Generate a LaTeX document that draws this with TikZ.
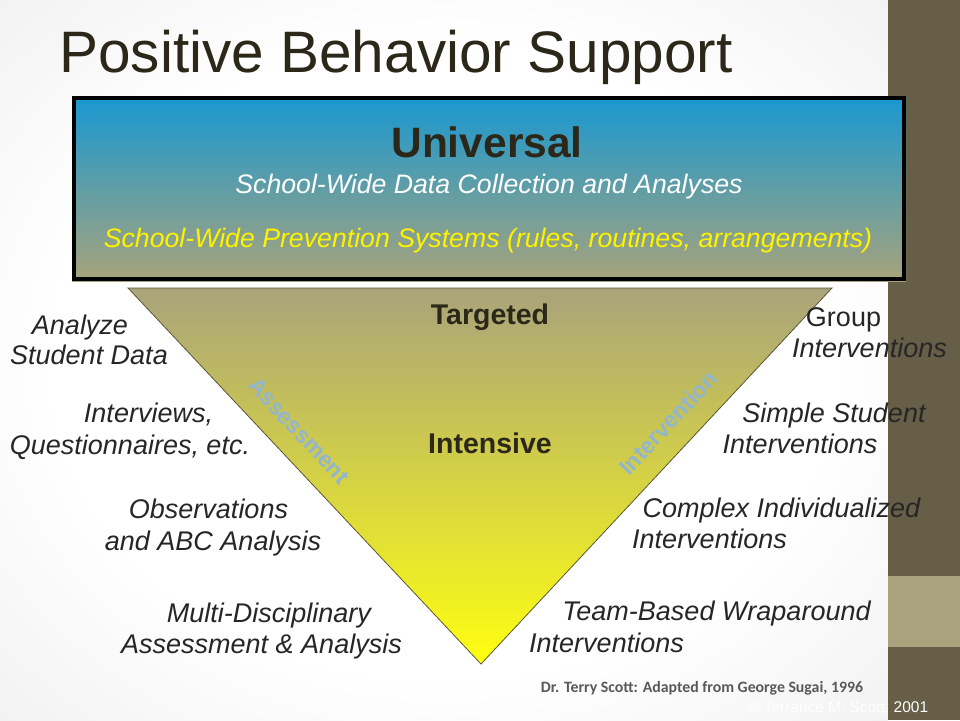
\documentclass[tikz,border=0pt]{standalone}
\usepackage{fontspec}
\setmainfont{Liberation Sans}
\newfontfamily\carlito{Carlito}
\usetikzlibrary{shadings}
\definecolor{titlecol}{HTML}{2B2819}
\definecolor{txtcol}{HTML}{262626}
\definecolor{stripdark}{HTML}{675E47}
\definecolor{striplight}{HTML}{A9A47E}
\definecolor{boxtop}{HTML}{1898D2}
\definecolor{boxbot}{HTML}{A8A37B}
\definecolor{tritop}{HTML}{A9A37B}
\definecolor{tribot}{HTML}{FFFF10}
\definecolor{triedge}{HTML}{5A5638}
\definecolor{sidelab}{HTML}{92B6CE}
\definecolor{creditcol}{HTML}{595959}
\definecolor{bggray}{HTML}{E4E4E4}
\definecolor{bggray2}{HTML}{CBCBCB}
\pgfdeclareradialshading{bgshade}{\pgfpoint{0bp}{0bp}}{color(0bp)=(white); color(22bp)=(white); color(50bp)=(bggray); color(71bp)=(bggray2)}
\tikzset{
  lab/.style={inner sep=0pt, anchor=base, text=txtcol, font=\fontsize{27}{27}\selectfont\itshape},
  labup/.style={inner sep=0pt, anchor=base, text=txtcol, font=\fontsize{27}{27}\selectfont},
  tier/.style={inner sep=0pt, anchor=base, text=titlecol, font=\fontsize{28.5}{28.5}\selectfont\bfseries},
  edgelab/.style={inner sep=0pt, anchor=center, text=sidelab, font=\fontsize{23}{23}\selectfont\bfseries}
}
\begin{document}
\begin{tikzpicture}[x=1pt,y=-1pt]
\useasboundingbox (0,0) rectangle (960,720);
% background
\shade[shading=bgshade] (0,0) rectangle (888,720);
% right strip
\fill[stripdark] (888,0) rectangle (960,720);
\fill[striplight] (888,576) rectangle (960,647);
% title
\node[inner sep=0pt, anchor=base, text=titlecol, font=\fontsize{58.5}{58.5}\selectfont] (title) at (396,72) {Positive Behavior Support};
% universal box
\shade[top color=boxtop, bottom color=boxbot] (72,96) rectangle (906,281);
\draw[black, line width=3.6pt] (73.8,97.8) rectangle (904.2,279.2);
\node[inner sep=0pt, anchor=base, text=titlecol, font=\fontsize{42.5}{42.5}\selectfont\bfseries] (universal) at (487,157) {Universal};
\node[inner sep=0pt, anchor=base, text=white, font=\fontsize{26.7}{26.7}\selectfont\itshape] (data) at (489,193) {School-Wide Data Collection and Analyses};
\node[inner sep=0pt, anchor=base, text=yellow, font=\fontsize{26.7}{26.7}\selectfont\itshape] (prev) at (488,247) {School-Wide Prevention Systems (rules, routines, arrangements)};
% triangle
\shade[top color=tritop, bottom color=tribot] (128,288) -- (832,288) -- (481,664) -- cycle;
\draw[triedge, line width=0.8pt, line join=miter] (128,288) -- (832,288) -- (481,664) -- cycle;
\node[tier] (targeted) at (490,324) {Targeted};
\node[tier] (intensive) at (490,453) {Intensive};
\node[edgelab, rotate=-46.9] (assess) at (299,431) {Assessment};
\node[edgelab, rotate=46.9] (interv) at (668,423) {Intervention};
% left labels
\node[lab] (l1a) at (80,334) {Analyze};
\node[lab] (l1b) at (89,364) {Student Data};
\node[lab] (l2a) at (148.5,422) {Interviews,};
\node[lab] (l2b) at (130,454) {Questionnaires, etc.};
\node[lab] (l3a) at (208.5,518) {Observations};
\node[lab] (l3b) at (213,550) {and ABC Analysis};
\node[lab] (l4a) at (269,622) {Multi-Disciplinary};
\node[lab] (l4b) at (261.5,653) {Assessment \& Analysis};
% right labels
\node[labup] (r1a) at (843.5,326) {Group};
\node[lab] (r1b) at (869.5,357) {Interventions};
\node[lab] (r2a) at (834,422) {Simple Student};
\node[lab] (r2b) at (800,453) {Interventions};
\node[lab] (r3a) at (781.5,517) {Complex Individualized};
\node[lab] (r3b) at (709.5,548) {Interventions};
\node[lab] (r4a) at (716.5,620) {Team-Based Wraparound};
\node[lab] (r4b) at (606.5,652) {Interventions};
% credits
\node[inner sep=0pt, anchor=base, text=creditcol, font=\carlito\fontsize{15.8}{15.8}\selectfont\bfseries] (credit) at (702,692) {Dr. Terry Scott: Adapted from George Sugai, 1996};
\node[inner sep=0pt, anchor=base, text=white, font=\fontsize{15.5}{15.5}\selectfont] (copy) at (838,712) {© Terrance M. Scott, 2001};
\end{tikzpicture}
\end{document}
